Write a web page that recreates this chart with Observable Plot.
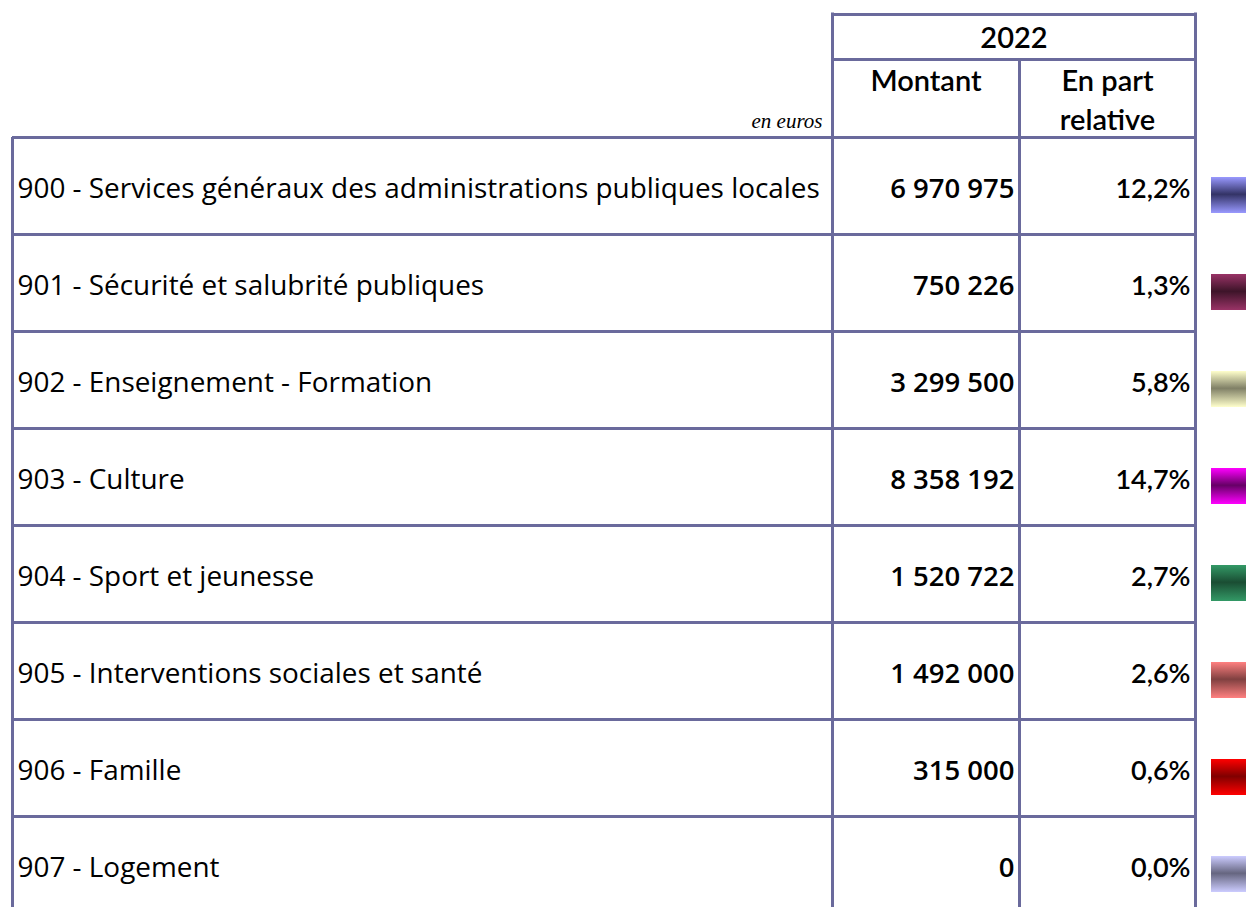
<!DOCTYPE html>
<html>
<head>
<meta charset="utf-8">
<script src="https://cdn.jsdelivr.net/npm/d3@7"></script>
<script src="https://cdn.jsdelivr.net/npm/@observablehq/plot@0.6"></script>
<style>
  html, body { margin: 0; padding: 0; background: #ffffff; overflow: hidden; }
  #chart svg { display: block; }
</style>
</head>
<body>
<div id="chart"></div>
<script>
// ---- Data ----
const year = "2022";
const colHeaders = ["Montant", "En part", "relative"];
const unitLabel = "en euros";
const categories = [
  "900 - Services généraux des administrations publiques locales",
  "901 - Sécurité et salubrité publiques",
  "902 - Enseignement - Formation",
  "903 - Culture",
  "904 - Sport et jeunesse",
  "905 - Interventions sociales et santé",
  "906 - Famille",
  "907 - Logement"
];
const montants = [6970975, 750226, 3299500, 8358192, 1520722, 1492000, 315000, 0];
const parts = [12.2, 1.3, 5.8, 14.7, 2.7, 2.6, 0.6, 0.0];
const swatchLight = ["#9999ff", "#993366", "#ffffcc", "#ff00ff", "#339966", "#ff8080", "#ff0000", "#ccccff"];
const swatchDark  = ["#333366", "#3d1429", "#808066", "#660066", "#1a4d33", "#804040", "#800000", "#666680"];

// ---- Layout (styling) ----
const W = 1246, H = 907;
const L = {
  left: 12, labelX: 17, col1: 832, col2: 1019, right: 1195,
  headTop: 14, headMid: 59, bodyTop: 137, rowH: 97,
  swX1: 1211, swX2: 1262, swH: 36
};
const lineColor = "#6a6a9c";
const font = "'Open Sans', 'Noto Sans', sans-serif";
const headFont = "Lato, 'Noto Sans', sans-serif";

const fr = d3.formatLocale({decimal: ",", thousands: "\u00a0", grouping: [3], currency: ["", " €"]});
const fmtM = fr.format(",d");
const fmtP = v => fr.format(".1f")(v) + "%";

const rows = categories.map((c, i) => ({
  i, cat: c, montant: fmtM(montants[i]), part: fmtP(parts[i]),
  top: L.bodyTop + i * L.rowH, mid: L.bodyTop + i * L.rowH + L.rowH / 2,
  fill: `url(#sw${i})`
}));
const hEdges = d3.range(categories.length + 1).map(k => L.bodyTop + k * L.rowH);

const svg = Plot.plot({
  width: W, height: H,
  margin: 0,
  x: {domain: [0, W], range: [0, W], axis: null},
  y: {domain: [0, H], range: [0, H], axis: null},
  color: {type: "identity"},
  style: {background: "white", overflow: "hidden"},
  marks: [
    // swatches
    Plot.rect(rows, {x1: L.swX1, x2: L.swX2, y1: d => d.mid + 9.5 - L.swH / 2, y2: d => d.mid + 9.5 + L.swH / 2, fill: "fill"}),
    // grid lines
    Plot.ruleY(hEdges, {y: d => d, x1: L.left, x2: L.right, stroke: lineColor, strokeWidth: 3}),
    Plot.ruleY([L.headTop, L.headMid], {y: d => d, x1: L.col1, x2: L.right, stroke: lineColor, strokeWidth: 3}),
    Plot.ruleX([L.left], {x: d => d, y1: L.bodyTop, y2: H + 5, stroke: lineColor, strokeWidth: 3}),
    Plot.ruleX([L.col1, L.right], {x: d => d, y1: L.headTop - 1.5, y2: H + 5, stroke: lineColor, strokeWidth: 3}),
    Plot.ruleX([L.col2], {x: d => d, y1: L.headMid, y2: H + 5, stroke: lineColor, strokeWidth: 3}),
    // header text
    Plot.text([year], {x: (L.col1 + L.right) / 2, y: 38, text: d => d, fontFamily: headFont, fontSize: 29, fontWeight: 600, fill: "#000", letterSpacing: "-1px"}),
    Plot.text([colHeaders[0]], {x: (L.col1 + L.col2) / 2, y: 81, text: d => d, fontFamily: headFont, fontSize: 29, fontWeight: 600, fill: "#000"}),
    Plot.text([colHeaders[1], colHeaders[2]], {x: (L.col2 + L.right) / 2, y: (d, i) => 81 + i * 39, text: d => d, fontFamily: headFont, fontSize: 29, fontWeight: 600, fill: "#000"}),
    Plot.text([unitLabel], {x: L.col1 - 10, y: 121, text: d => d, textAnchor: "end", fontFamily: "'Liberation Serif', 'Times New Roman', serif", fontStyle: "italic", fontSize: 21, fill: "#000"}),
    // body text
    Plot.text(rows, {x: L.labelX, y: d => d.mid + 3, text: "cat", textAnchor: "start", fontFamily: font, fontSize: 27.9, fontWeight: 400, fill: "#000"}),
    Plot.text(rows, {x: L.col2 - 5, y: d => d.mid + 3, text: "montant", textAnchor: "end", fontFamily: font, fontSize: 27.5, fontWeight: 600, fill: "#000"}),
    Plot.text(rows, {x: L.right - 5, y: d => d.mid + 3, text: "part", textAnchor: "end", fontFamily: headFont, fontSize: 27, fontWeight: 600, fill: "#000"})
  ]
});

// gradient definitions for the swatches
const defs = d3.select(svg).insert("defs", ":first-child");
swatchLight.forEach((c, i) => {
  const g = defs.append("linearGradient").attr("id", `sw${i}`).attr("x1", 0).attr("y1", 0).attr("x2", 0).attr("y2", 1);
  g.append("stop").attr("offset", "0%").attr("stop-color", c);
  g.append("stop").attr("offset", "48%").attr("stop-color", swatchDark[i]);
  g.append("stop").attr("offset", "100%").attr("stop-color", c);
});

document.getElementById("chart").append(svg);
</script>
</body>
</html>
